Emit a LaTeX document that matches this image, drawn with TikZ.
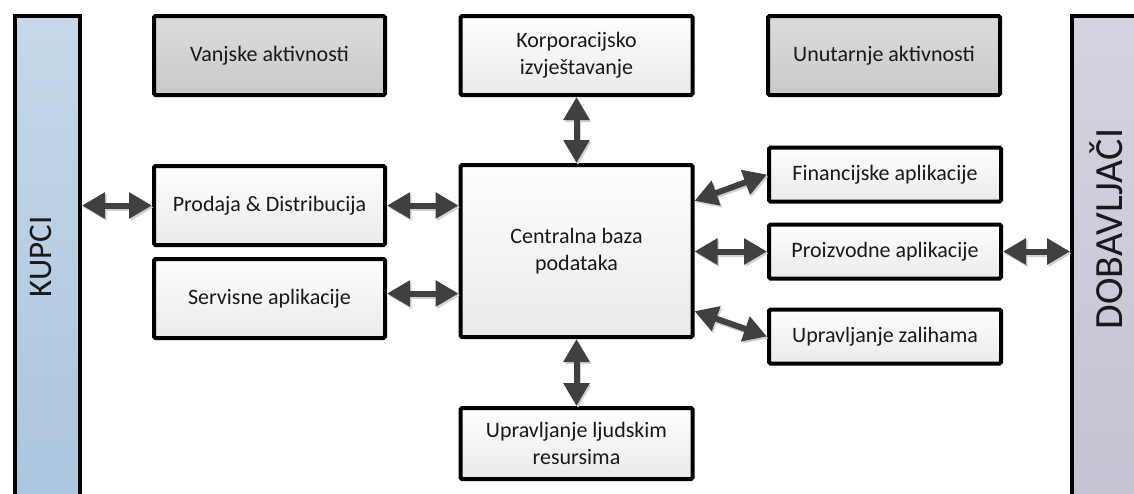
\documentclass[tikz,border=0pt]{standalone}
\usepackage{fontspec}
\setmainfont{Carlito}
\usetikzlibrary{arrows.meta}
\definecolor{arrgray}{HTML}{404040}
\definecolor{grayTop}{HTML}{DCDCDC}
\definecolor{grayBot}{HTML}{C9C9C9}
\definecolor{lightTop}{HTML}{FEFEFE}
\definecolor{lightBot}{HTML}{EAEAEA}
\definecolor{blueTop}{HTML}{C6D8E9}
\definecolor{blueBot}{HTML}{A9C4DE}
\definecolor{lavTop}{HTML}{D6D2DF}
\definecolor{lavBot}{HTML}{C6C1D2}
\tikzset{
  basebox/.style={draw=black, line width=4pt, rounded corners=1.5pt, align=center,
    font=\fontsize{22}{27}\selectfont, text=black!90, inner sep=0pt},
  graybox/.style={basebox, top color=grayTop, bottom color=grayBot},
  lightbox/.style={basebox, top color=lightTop, bottom color=lightBot},
  bigbox/.style={lightbox, minimum width=232pt, minimum height=79pt},
  smallbox/.style={lightbox, minimum width=232pt, minimum height=54pt},
  dblarrow/.style={draw=arrgray, line width=6pt,
    {Triangle[length=23pt,width=25pt]}-{Triangle[length=23pt,width=25pt]},
    preaction={draw=black!18, line width=6pt, transform canvas={shift={(1.5pt,-2pt)}}}},
  sidelabel/.style={rotate=90, font=\fontsize{33}{38}\selectfont, text=black!90}
}
\begin{document}
\begin{tikzpicture}[x=1pt,y=-1pt]
\useasboundingbox (0,0) rectangle (1134,493);
\clip (0,0) rectangle (1134,493);
\fill[white] (0,0) rectangle (1134,493);
% side bars
\node[draw=black, line width=4pt, top color=blueTop, bottom color=blueBot,
  minimum width=65pt, minimum height=520pt, inner sep=0pt] (kupcibar) at (47.5,276) {};
\node[sidelabel] (kupci) at (41,257) {KUPCI};
\node[draw=black, line width=4pt, top color=lavTop, bottom color=lavBot,
  minimum width=90pt, minimum height=520pt, inner sep=0pt] (dobbar) at (1117,276) {};
\node[sidelabel, font=\fontsize{40}{45}\selectfont] (dob) at (1106,229) {DOBAVLJAČI};
% top row
\node[graybox, minimum width=231pt, minimum height=79pt] (vanj) at (269.5,55.5) {Vanjske aktivnosti};
\node[bigbox] (korp) at (576.5,55.5) {Korporacijsko\\izvještavanje};
\node[graybox, minimum width=232pt, minimum height=79pt] (unut) at (884,55.5) {Unutarnje aktivnosti};
% left column
\node[lightbox, minimum width=231pt, minimum height=79pt] (prod) at (269.5,205.5) {Prodaja \& Distribucija};
\node[lightbox, minimum width=231pt, minimum height=79pt] (serv) at (269.5,298.5) {Servisne aplikacije};
% center
\node[lightbox, minimum width=232pt, minimum height=172pt] (central) at (576.5,251) {Centralna baza\\podataka};
\node[lightbox, minimum width=232pt, minimum height=71pt] (hr) at (576.5,443.5) {Upravljanje ljudskim\\resursima};
% right column
\node[smallbox] (fin) at (885,174.5) {Financijske aplikacije};
\node[smallbox] (proiz) at (885,251.5) {Proizvodne aplikacije};
\node[smallbox] (zal) at (885,336.5) {Upravljanje zalihama};
% connectors
\coordinate (kupciR) at (kupcibar.east |- prod.west);
\coordinate (dobL) at (dobbar.west |- proiz.east);
\coordinate (servR) at ([yshift=5pt]serv.east);
\coordinate (centSL) at (central.west |- servR);
\draw[dblarrow] (kupciR) -- (prod.west);
\draw[dblarrow] (prod.east) -- (central.west |- prod.east);
\draw[dblarrow] (servR) -- (centSL);
\draw[dblarrow] (korp.south) -- (central.north);
\draw[dblarrow] (central.south) -- (hr.north);
\draw[dblarrow] (central.23) -- (fin.west);
\draw[dblarrow] (central.east |- proiz.west) -- (proiz.west);
\draw[dblarrow] (central.-27) -- (zal.west);
\draw[dblarrow] (proiz.east) -- (dobL);
\end{tikzpicture}
\end{document}
